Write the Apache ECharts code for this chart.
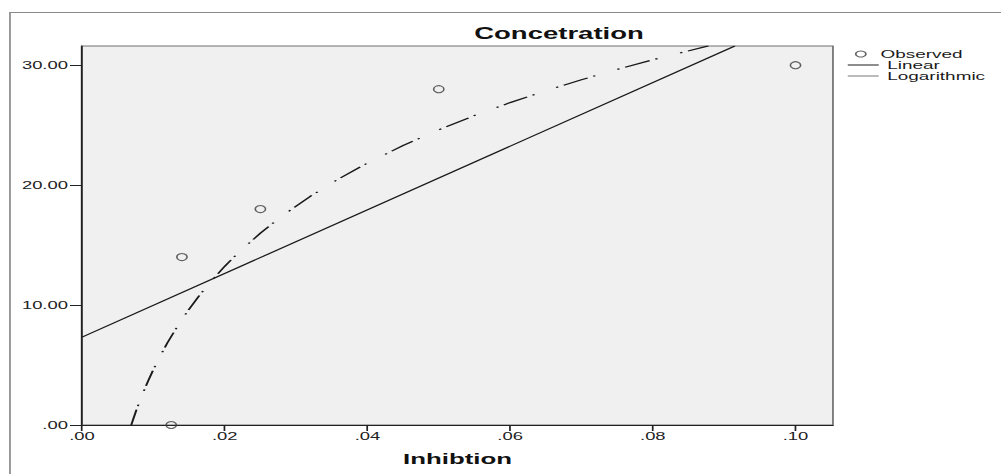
<!DOCTYPE html>
<html>
<head>
<meta charset="utf-8">
<script src="https://cdn.jsdelivr.net/npm/echarts@6/dist/echarts.min.js"></script>
<style>
  html, body { margin: 0; padding: 0; background: #fff; overflow: hidden; }
  /* the reference is a horizontally stretched SPSS export, so the chart is stretched the same way */
  #chart { width: 582px; height: 474px; transform: scaleX(1.71993); transform-origin: 0 0; }
</style>
</head>
<body>
<div id="chart"></div>
<script>
const obsX = [0.0125, 0.014, 0.025, 0.05, 0.1];
const obsY = [0, 14, 18, 28, 30];

const linX = [0, 0.0915];
const linY = [7.33, 31.6];

// points
const logX = [0.0069, 0.0072, 0.0076, 0.008, 0.0086, 0.0093, 0.01, 0.011, 0.012, 0.0135, 0.015, 0.0165, 0.018, 0.02, 0.022,
  0.025, 0.028, 0.032, 0.036, 0.04, 0.045, 0.05, 0.055, 0.06, 0.065, 0.07, 0.075, 0.08, 0.0878];
const logY = [0, 0.54, 1.22, 1.85, 2.75, 3.72, 4.62, 5.81, 6.89, 8.35, 9.66, 10.84, 11.92, 13.23, 14.42,
  16.0, 17.41, 19.07, 20.53, 21.84, 23.3, 24.61, 25.8, 26.88, 27.87, 28.79, 29.65, 30.45, 31.61];

const xTicks = [0, 0.02, 0.04, 0.06, 0.08, 0.1];
const yTicks = [0, 10, 20, 30];

const pairs = (xs, ys) => xs.map((x, i) => [x, ys[i]]);
const fmt = (v) => v.toFixed(2).replace(/^0\./, '.');
const font = '"Liberation Sans", Arial, sans-serif';

const chart = echarts.init(document.getElementById('chart'), null, { renderer: 'svg' });
chart.setOption({
  animation: false,
  backgroundColor: '#fff',
  textStyle: { fontFamily: font },
  title: {
    text: 'Concetration',
    left: 275.7,
    top: 26,
    padding: 0,
    textStyle: { fontFamily: font, fontSize: 16, fontWeight: 'bold', color: '#111' },
  },
  graphic: [
    {
      type: 'rect',
      silent: true,
      shape: { x: 5.8, y: 12.5, width: 800, height: 600 },
      style: { fill: 'none', stroke: '#8a8a8a', lineWidth: 1 },
    },
  ],
  legend: [
    {
      data: ['Observed'],
      orient: 'vertical',
      left: 497,
      top: 48.5,
      padding: 0,
      itemWidth: 13,
      itemHeight: 6,
      itemStyle: { borderWidth: 1 },
      textStyle: { fontFamily: font, fontSize: 11, lineHeight: 11, color: '#1a1a1a' },
    },
    {
      data: [
        { name: 'Linear', lineStyle: { color: '#1a1a1a', width: 1 } },
        { name: 'Logarithmic', lineStyle: { type: 'solid', color: '#777', width: 1 } },
      ],
      orient: 'vertical',
      left: 492.4,
      top: 59.5,
      padding: 0,
      itemGap: 0,
      itemWidth: 18,
      itemHeight: 11,
      itemStyle: { color: 'rgba(0,0,0,0)', borderWidth: 0, opacity: 0 },
      textStyle: { fontFamily: font, fontSize: 11, lineHeight: 11, color: '#1a1a1a' },
    },
  ],
  grid: {
    left: 47.7,
    right: 97.7,
    top: 46,
    bottom: 49,
    show: true,
    backgroundColor: '#f0f0f0',
    borderColor: '#707070',
    borderWidth: 1,
    containLabel: false,
    outerBoundsMode: 'none',
  },
  xAxis: {
    type: 'value',
    min: 0,
    max: 0.10525,
    interval: 0.02,
    name: 'Inhibtion',
    nameLocation: 'middle',
    nameGap: 26,
    nameTextStyle: { fontFamily: font, fontSize: 15, fontWeight: 'bold', color: '#111' },
    axisLine: { show: true, lineStyle: { color: '#222', width: 1 } },
    axisTick: { show: true, length: 6, customValues: xTicks, lineStyle: { color: '#222' } },
    axisLabel: {
      customValues: xTicks,
      margin: 6,
      fontSize: 10.7,
      color: '#222',
      formatter: fmt,
    },
    splitLine: { show: false },
  },
  yAxis: {
    type: 'value',
    min: 0,
    max: 31.6,
    interval: 10,
    axisLine: { show: true, lineStyle: { color: '#222', width: 1 } },
    axisTick: { show: true, length: 7, customValues: yTicks, lineStyle: { color: '#222' } },
    axisLabel: {
      customValues: yTicks,
      margin: 8.2,
      fontSize: 10.7,
      color: '#222',
      formatter: fmt,
    },
    splitLine: { show: false },
  },
  series: [
    {
      name: 'Linear',
      type: 'line',
      data: pairs(linX, linY),
      symbol: 'none',
      lineStyle: { color: '#1a1a1a', width: 1.1 },
      itemStyle: { color: '#1a1a1a' },
      z: 3,
    },
    {
      name: 'Logarithmic',
      type: 'line',
      data: pairs(logX, logY),
      symbol: 'none',
      lineStyle: { color: '#1a1a1a', width: 1.2, type: [15.7, 3.6, 1.4, 14.3, 1.4, 3.6] },
      itemStyle: { color: '#1a1a1a' },
      z: 3,
    },
    {
      name: 'Observed',
      type: 'scatter',
      data: pairs(obsX, obsY),
      symbol: 'circle',
      symbolSize: [6, 7],
      itemStyle: { color: 'rgba(0,0,0,0)', borderColor: '#3a3a3a', borderWidth: 1 },
      z: 4,
    },
  ],
});
</script>
</body>
</html>
